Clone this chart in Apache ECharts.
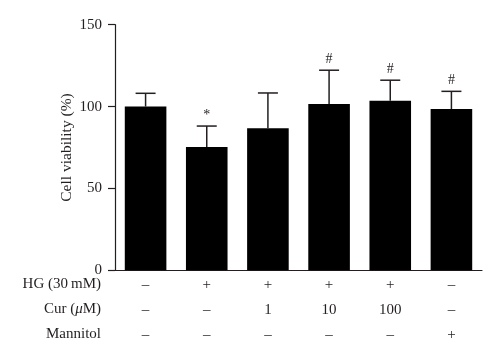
<!DOCTYPE html>
<html><head><meta charset="utf-8">
<script src="https://cdn.jsdelivr.net/npm/echarts@6/dist/echarts.min.js"></script>
<style>html,body{margin:0;padding:0;background:#fff}#c{width:500px;height:357px}</style>
</head><body><div id="c"></div>
<script>
const groups = ['G1','G2','G3','G4','G5','G6'];
const means = [100, 75.3, 86.7, 101.6, 103.6, 98.5];
const sds = [8.1, 12.8, 21.6, 20.6, 12.5, 10.8];
const signif = ['', '*', '', '#', '#', '#'];
const hgRow = ['–', '+', '+', '+', '+', '–'];
const curRow = ['–', '–', '1', '10', '100', '–'];
const manRow = ['–', '–', '–', '–', '–', '+'];
const rowTitles = ['HG (30\u2009mM)', 'Cur ({i|μ}M)', 'Mannitol'];
const yTicks = [0, 50, 100, 150];

const FONT = 'Liberation Serif';
const INK = '#231f20';
const chart = echarts.init(document.getElementById('c'));
const gridTop = 24.7, gridBottom = 86.7, gridLeft = 115, gridRight = 18;
const axisY = 357 - gridBottom;
chart.setOption({
  animation: false,
  grid: {left: gridLeft, right: gridRight, top: gridTop, bottom: gridBottom},
  xAxis: {
    type: 'category', data: groups,
    axisLine: {lineStyle: {color: INK, width: 1.2}},
    axisTick: {show: false},
    axisLabel: {
      margin: 2, fontFamily: FONT, fontSize: 15, color: INK, lineHeight: 25,
      formatter: (v, i) => hgRow[i] + '\n' + curRow[i] + '\n' + manRow[i]
    }
  },
  yAxis: {
    type: 'value', min: yTicks[0], max: yTicks[yTicks.length-1], interval: 50,
    name: 'Cell viability (%)', nameLocation: 'middle', nameGap: 40, nameMoveOverlap: false,
    nameTextStyle: {fontFamily: FONT, fontSize: 15.5, color: INK},
    axisLine: {show: true, lineStyle: {color: INK, width: 1.2}},
    axisTick: {show: true, length: 7, lineStyle: {color: INK, width: 1.2}},
    axisLabel: {fontFamily: FONT, fontSize: 15, color: INK, margin: 13},
    splitLine: {show: false}
  },
  series: [
    {type: 'bar', data: means, barWidth: '68%', itemStyle: {color: '#000'}, z: 2},
    {
      type: 'custom', z: 3,
      data: means.map((m, i) => [i, m, sds[i]]),
      renderItem: (params, api) => {
        const i = api.value(0), m = api.value(1), s = api.value(2);
        const base = api.coord([i, m]);
        const top = api.coord([i, m + s]);
        const hw = 10;
        const children = [
          {type: 'line', shape: {x1: base[0], y1: base[1], x2: top[0], y2: top[1]}, style: {stroke: INK, lineWidth: 1.5}},
          {type: 'line', shape: {x1: top[0]-hw, y1: top[1], x2: top[0]+hw, y2: top[1]}, style: {stroke: INK, lineWidth: 1.5}}
        ];
        const sg = signif[params.dataIndex];
        if (sg) children.push({type: 'text', style: {x: top[0], y: top[1] - 4, text: sg, textAlign: 'center', textVerticalAlign: 'bottom', fontFamily: FONT, fontSize: 14, fill: INK}});
        return {type: 'group', children};
      }
    }
  ],
  graphic: rowTitles.map((t, k) => ({
    type: 'text', x: 101, y: axisY + 14 + k * 25,
    style: {
      text: t, textAlign: 'right', textVerticalAlign: 'middle',
      fontFamily: FONT, fontSize: 15, fill: INK,
      rich: {i: {fontStyle: 'italic', fontFamily: FONT, fontSize: 15, fill: INK}}
    }
  }))
});
</script></body></html>
